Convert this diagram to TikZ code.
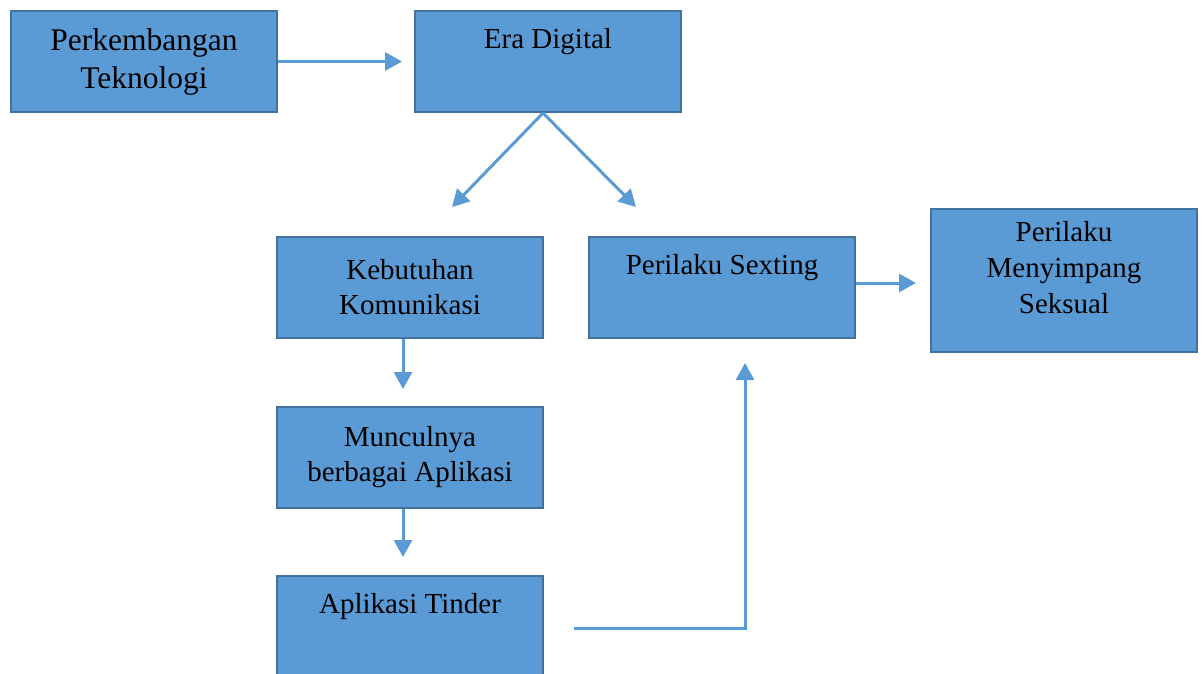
\documentclass[tikz,border=0pt]{standalone}
\usepackage{fontspec}
\setmainfont{Liberation Serif}
\usetikzlibrary{arrows.meta}
\definecolor{boxblue}{HTML}{5B9BD5}
\definecolor{boxline}{HTML}{41719C}
\tikzset{
	flowbox/.style={draw=boxline, fill=boxblue, line width=2pt, minimum width=266pt, minimum height=101pt, inner sep=0pt, align=center, font=\fontsize{29}{35}\selectfont},
	flowarrow/.style={draw=boxblue, line width=3pt, -{Triangle[length=17pt,width=18pt]}}
}

\begin{document}
\begin{tikzpicture}[x=1pt, y=-1pt]
			%%%%% START %%%%%
			\useasboundingbox (0, 0) rectangle (1202, 674);
			
			\node[flowbox, font=\fontsize{31.5}{38}\selectfont] (tekno) at (144, 61.5) {Perkembangan\\Teknologi};
			\node[flowbox] (era) at (548, 61.5) {Era Digital\\\strut};
			
			\node[flowbox] (keb) at (410, 287.5) {Kebutuhan\\Komunikasi};
			\node[flowbox] (sext) at (722, 287.5) {Perilaku Sexting\\\strut};
			\node[flowbox, minimum height=143pt, font=\fontsize{29}{36}\selectfont] (meny) at (1064, 280.5) {Perilaku\\Menyimpang\\Seksual\\[-20pt]\strut};
			
			\node[flowbox] (munc) at (410, 457.5) {Munculnya\\berbagai Aplikasi};
			\node[flowbox] (tinder) at (410, 626.5) {Aplikasi Tinder\\\strut};
			
			\coordinate (eraOut) at ([xshift=-5pt]era.south);
			\coordinate (kebIn) at (452, 207);
			\coordinate (sextIn) at (636, 207);
			\coordinate (sextOut) at ([yshift=4.5pt]sext.east);
			
			\draw[flowarrow, shorten >=12pt] (tekno.east) -- (era.west);
			\draw[flowarrow] (eraOut) -- (kebIn);
			\draw[flowarrow] (eraOut) -- (sextIn);
			
			\draw[flowarrow, shorten >=17pt] ([xshift=-7pt]keb.south) -- ([xshift=-7pt]munc.north);
			\draw[flowarrow, shorten >=18pt] ([xshift=-7pt]munc.south) -- ([xshift=-7pt]tinder.north);
			
			\draw[flowarrow, shorten <=30pt, shorten >=24pt] ([yshift=-1.5pt]tinder.east) -| ([xshift=23pt]sext.south);
			\draw[flowarrow, shorten >=14pt] (sextOut) -- (sextOut -| meny.west);
			
			%%%%% END %%%%%
		\end{tikzpicture}
\end{document}
